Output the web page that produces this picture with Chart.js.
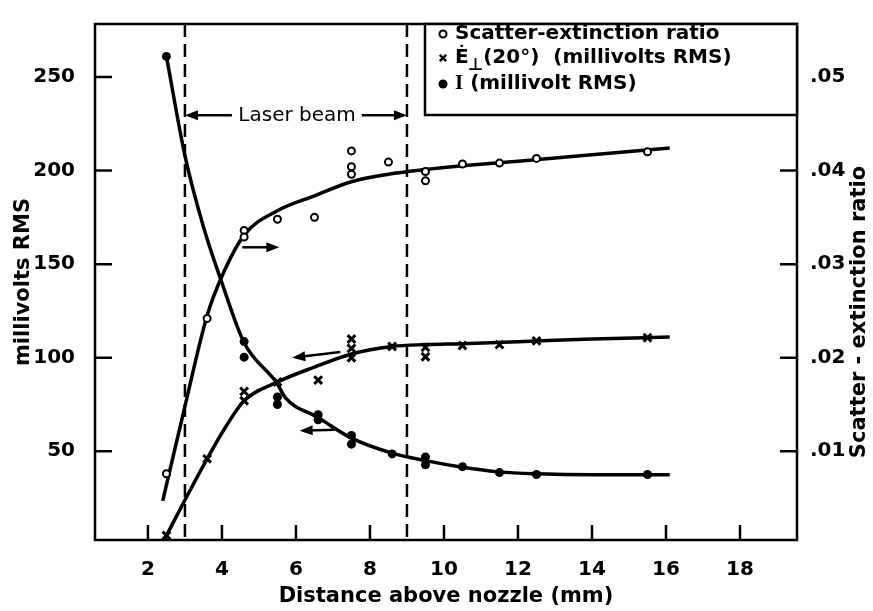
<!DOCTYPE html>
<html>
<head>
<meta charset="utf-8">
<script src="https://cdn.jsdelivr.net/npm/chart.js@4.4.0/dist/chart.umd.min.js"></script>
<style>
  html, body { margin: 0; padding: 0; background: #fff; }
  #wrap { width: 873px; height: 611px; }
</style>
</head>
<body>
<div id="wrap"><canvas id="chart"></canvas></div>
<script>
// tick values
const xTicks = [2, 4, 6, 8, 10, 12, 14, 16, 18];
const mvTicks = [50, 100, 150, 200, 250];
const ratioTicks = [0.01, 0.02, 0.03, 0.04, 0.05];
const ratioTickLabels = ['.01', '.02', '.03', '.04', '.05'];

// scatter-extinction ratio (open circles, right axis)
const ratioX = [2.5, 3.6, 4.6, 4.6, 5.5, 6.5, 7.5, 7.5, 7.5, 8.5, 9.5, 9.5, 10.5, 11.5, 12.5, 15.5];
const ratioY = [.0076, .0242, .0336, .0329, .0348, .035, .0421, .0404, .0396, .0409, .0399, .0389, .0407, .0408, .0413, .042];
// E perp (20 deg), millivolts RMS (crosses)
const eX = [2.5, 3.6, 4.6, 4.6, 5.5, 6.6, 7.5, 7.5, 7.5, 8.6, 9.5, 9.5, 10.5, 11.5, 12.5, 15.5];
const eY = [5, 46, 82, 77, 87, 88, 110, 105, 100, 106, 105.5, 100.5, 106.5, 107, 109, 110.7];
// I, millivolt RMS (filled dots)
const iX = [2.5, 4.6, 4.6, 5.5, 5.5, 6.6, 6.6, 7.5, 7.5, 8.6, 9.5, 9.5, 10.5, 11.5, 12.5, 15.5];
const iY = [261, 108.6, 100.3, 79, 75, 69.5, 66.8, 58.5, 53.8, 48.6, 47, 42.8, 41.8, 38.6, 37.6, 37.6];

// hand drawn fitted curves
const ratioCurveX = [2.4, 3.0, 3.6, 4.0, 4.6, 5.5, 6.5, 7.5, 8.5, 9.5, 10.5, 12, 14, 16.1];
const ratioCurveY = [.0047, .0148, .0245, .0287, .0331, .0357, .0373, .0388, .0396, .0401, .0405, .041, .0417, .0424];
const eCurveX = [2.45, 3.0, 3.6, 4.1, 4.6, 5.5, 6.5, 7.5, 8.6, 9.5, 10.5, 12, 14, 16.1];
const eCurveY = [3, 24, 46, 63, 77, 87, 95, 102, 106, 107, 107.5, 108.5, 110, 111];
const iCurveX = [2.5, 3.0, 3.5, 4.0, 4.6, 5.5, 5.7, 6.6, 7.5, 8.6, 9.5, 10.5, 11.5, 12.5, 14, 16.1];
const iCurveY = [261, 208, 170, 140, 108, 86, 79, 68, 57, 49, 45, 41.5, 39, 38, 37.5, 37.5];

// laser beam edges and annotation arrows [x, y] tail -> head
const beamEdges = [3, 9];
const beamLabelAt = [6.03, 229.5];
const beamArrows = [[[4.27, 229.5], [3, 229.5]], [[7.78, 229.5], [9, 229.5]]];
const ratioArrow = [[4.55, .0318], [5.55, .0318]];
const eArrow = [[7.2, 103], [5.9, 100]];
const iArrow = [[7.05, 61.5], [6.1, 61]];

const FONT = '"DejaVu Sans", sans-serif';
Chart.defaults.font.family = FONT;
Chart.defaults.color = '#000';

const pts = (xs, ys) => xs.map((x, i) => ({ x: x, y: ys[i] }));

function arrow(ctx, x1, y1, x2, y2) {
  const ang = Math.atan2(y2 - y1, x2 - x1);
  ctx.beginPath();
  ctx.moveTo(x1, y1);
  ctx.lineTo(x2 - 8 * Math.cos(ang), y2 - 8 * Math.sin(ang));
  ctx.stroke();
  ctx.beginPath();
  ctx.moveTo(x2, y2);
  ctx.lineTo(x2 - 13 * Math.cos(ang) + 5 * Math.sin(ang), y2 - 13 * Math.sin(ang) - 5 * Math.cos(ang));
  ctx.lineTo(x2 - 13 * Math.cos(ang) - 5 * Math.sin(ang), y2 - 13 * Math.sin(ang) + 5 * Math.cos(ang));
  ctx.closePath();
  ctx.fill();
}

const overlay = {
  id: 'overlay',
  beforeDatasetsDraw(chart) {
    const { ctx, chartArea: a, scales: { x } } = chart;
    ctx.save();
    ctx.strokeStyle = '#000';
    ctx.lineWidth = 2.5;
    ctx.setLineDash([13, 7]);
    beamEdges.forEach(v => {
      const px = x.getPixelForValue(v);
      ctx.beginPath();
      ctx.moveTo(px, a.top);
      ctx.lineTo(px, a.bottom);
      ctx.stroke();
    });
    ctx.restore();
  },
  afterDatasetsDraw(chart) {
    const { ctx, chartArea: a, scales: { x, y, y2 } } = chart;
    ctx.save();
    ctx.strokeStyle = '#000';
    ctx.fillStyle = '#000';
    ctx.lineWidth = 2.5;

    // frame and inward ticks
    ctx.strokeRect(a.left, a.top, a.right - a.left, a.bottom - a.top);
    ctx.beginPath();
    xTicks.forEach(v => { const p = x.getPixelForValue(v); ctx.moveTo(p, a.bottom); ctx.lineTo(p, a.bottom - 15); });
    mvTicks.forEach(v => { const p = y.getPixelForValue(v); ctx.moveTo(a.left, p); ctx.lineTo(a.left + 17, p); });
    ratioTicks.forEach(v => { const p = y2.getPixelForValue(v); ctx.moveTo(a.right, p); ctx.lineTo(a.right - 17, p); });
    ctx.stroke();

    // annotation arrows
    beamArrows.forEach(([t, h]) => arrow(ctx, x.getPixelForValue(t[0]), y.getPixelForValue(t[1]), x.getPixelForValue(h[0]), y.getPixelForValue(h[1])));
    arrow(ctx, x.getPixelForValue(ratioArrow[0][0]), y2.getPixelForValue(ratioArrow[0][1]), x.getPixelForValue(ratioArrow[1][0]), y2.getPixelForValue(ratioArrow[1][1]));
    [eArrow, iArrow].forEach(([t, h]) => arrow(ctx, x.getPixelForValue(t[0]), y.getPixelForValue(t[1]), x.getPixelForValue(h[0]), y.getPixelForValue(h[1])));

    ctx.font = '20px ' + FONT;
    ctx.textAlign = 'center';
    ctx.textBaseline = 'middle';
    ctx.fillText('Laser beam', x.getPixelForValue(beamLabelAt[0]), y.getPixelForValue(beamLabelAt[1]));

    // legend box
    const lx = 425, ly = a.top, lb = 115;
    ctx.fillStyle = '#fff';
    ctx.fillRect(lx, ly, a.right - lx, lb - ly);
    ctx.strokeRect(lx, ly, a.right - lx, lb - ly);
    ctx.textAlign = 'left';
    const mx = 443, tx = 455;
    const rows = [34, 58, 84];
    ctx.lineWidth = 2;
    ctx.beginPath(); ctx.arc(mx, rows[0], 3.5, 0, Math.PI * 2); ctx.fill(); ctx.stroke();
    ctx.fillStyle = '#000';
    ctx.lineWidth = 2.5;
    Chart.helpers.drawPoint(ctx, { pointStyle: 'crossRot', radius: 4.5, borderWidth: 2.5 }, mx, rows[1]);
    ctx.beginPath(); ctx.arc(mx, rows[2], 4.5, 0, Math.PI * 2); ctx.fill();

    ctx.font = 'bold 20px ' + FONT;
    ctx.fillText('Scatter-extinction ratio', tx, rows[0]);
    ctx.fillText('\u0116', tx, rows[1]);
    let w = ctx.measureText('\u0116').width;
    ctx.font = 'bold 17px ' + FONT;
    ctx.fillText('\u22A5', tx + w - 1, rows[1] + 8);
    const w2 = ctx.measureText('\u22A5').width;
    ctx.font = 'bold 20px ' + FONT;
    ctx.fillText('(20\u00B0)  (millivolts RMS)', tx + w + w2 - 1, rows[1]);
    ctx.font = 'bold 21px "Liberation Serif", serif';
    ctx.fillText('I', tx, rows[2]);
    w = ctx.measureText('I').width;
    ctx.font = 'bold 20px ' + FONT;
    ctx.fillText(' (millivolt RMS)', tx + w, rows[2]);

    // right axis title, reading upward
    ctx.save();
    ctx.translate(860, 312);
    ctx.rotate(-Math.PI / 2);
    ctx.textAlign = 'center';
    ctx.font = 'bold 21px ' + FONT;
    ctx.fillText('Scatter - extinction ratio', 0, 0);
    ctx.restore();

    ctx.restore();
  }
};

const tickFont = { size: 20, weight: 'bold' };
const titleFont = { size: 21, weight: 'bold' };

new Chart(document.getElementById('chart'), {
  type: 'scatter',
  data: {
    datasets: [
      { data: pts(iX, iY), yAxisID: 'y', pointStyle: 'circle', pointRadius: 4.5, backgroundColor: '#000', borderColor: '#000', borderWidth: 0 },
      { data: pts(eX, eY), yAxisID: 'y', pointStyle: 'crossRot', pointRadius: 5.5, borderColor: '#000', borderWidth: 3 },
      { data: pts(ratioX, ratioY), yAxisID: 'y2', pointStyle: 'circle', pointRadius: 3.5, backgroundColor: '#fff', borderColor: '#000', borderWidth: 2 },
      { data: pts(ratioCurveX, ratioCurveY), yAxisID: 'y2', showLine: true, pointRadius: 0, borderColor: '#000', borderWidth: 3.5, cubicInterpolationMode: 'monotone' },
      { data: pts(eCurveX, eCurveY), yAxisID: 'y', showLine: true, pointRadius: 0, borderColor: '#000', borderWidth: 3.5, cubicInterpolationMode: 'monotone' },
      { data: pts(iCurveX, iCurveY), yAxisID: 'y', showLine: true, pointRadius: 0, borderColor: '#000', borderWidth: 3.5, cubicInterpolationMode: 'monotone' }
    ]
  },
  options: {
    responsive: true,
    maintainAspectRatio: false,
    animation: false,
    layout: { padding: { top: 12, left: 0, right: 0, bottom: 0 } },
    plugins: { legend: { display: false }, tooltip: { enabled: false } },
    scales: {
      x: {
        type: 'linear', position: 'bottom', min: 0.57, max: 19.54,
        afterBuildTicks: s => { s.ticks = xTicks.map(v => ({ value: v })); },
        afterFit: s => { s.height = 71; },
        grid: { display: false },
        border: { display: false },
        ticks: { font: tickFont, padding: 10, maxRotation: 0, autoSkip: false },
        title: { display: true, text: 'Distance above nozzle (mm)', font: titleFont, padding: { top: 0, bottom: 2 } }
      },
      y: {
        type: 'linear', position: 'left', min: 2.6, max: 278.3,
        afterBuildTicks: s => { s.ticks = mvTicks.map(v => ({ value: v })); },
        afterFit: s => { s.width = 95; },
        grid: { display: false },
        border: { display: false },
        ticks: { font: tickFont, padding: 12 },
        title: { display: true, text: 'millivolts RMS', font: titleFont, padding: { top: 11, bottom: 0 } }
      },
      y2: {
        type: 'linear', position: 'right', min: 0.00052, max: 0.05566,
        afterBuildTicks: s => { s.ticks = ratioTicks.map(v => ({ value: v })); },
        afterFit: s => { s.width = 76; },
        grid: { display: false },
        border: { display: false },
        ticks: { font: tickFont, padding: 5, callback: (v, i) => ratioTickLabels[i] }
      }
    }
  },
  plugins: [overlay]
});
</script>
</body>
</html>
